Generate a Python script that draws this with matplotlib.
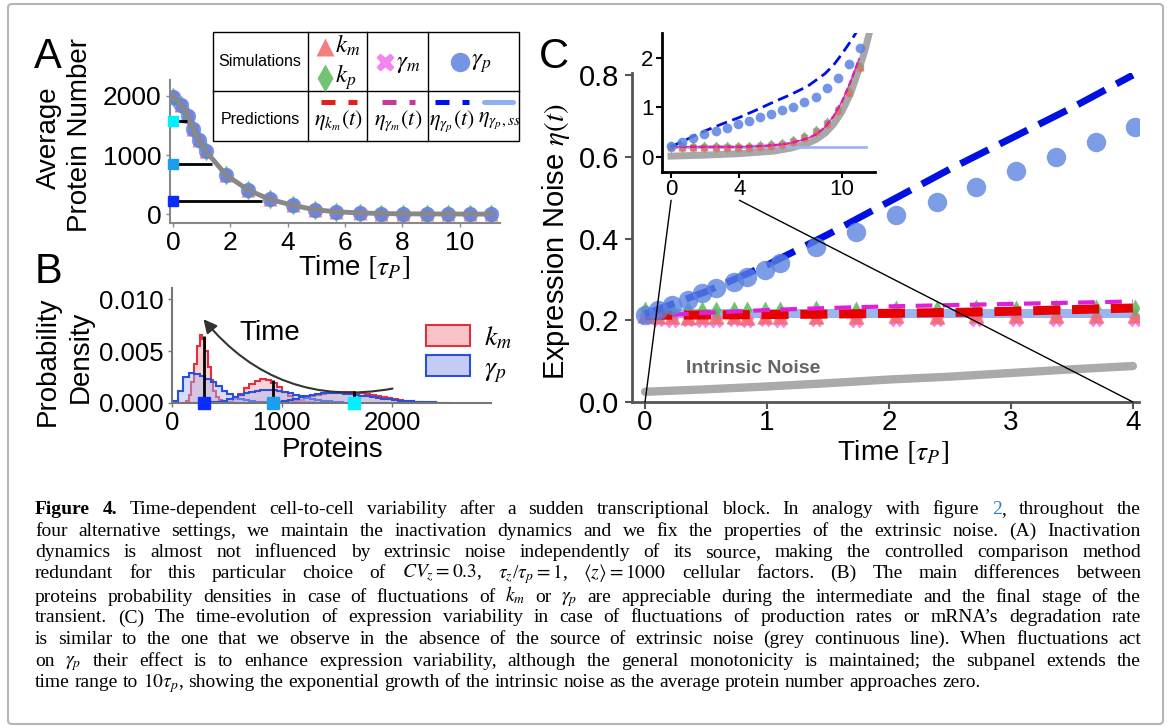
import matplotlib
matplotlib.use("Agg")
import matplotlib.pyplot as plt
from matplotlib.patches import Patch, Rectangle, FancyBboxPatch, ConnectionPatch

plt.rcParams['font.family'] = ['Liberation Sans', 'DejaVu Sans']
plt.rcParams['mathtext.fontset'] = 'stix'

W, H = 1167, 727

# ---------------- data: panel A (average protein number) ----------------
a_time = [0, 0.29, 0.52, 0.70, 0.91, 1.14, 1.86, 2.62, 3.37, 4.19, 4.94,
          5.70, 6.51, 7.27, 8.02, 8.84, 9.59, 10.35, 11.1]
a_mean = [1990, 1850, 1660, 1440, 1250, 1070, 660, 410, 250, 150, 75,
          40, 20, 10, 5, 3, 2, 1, 0]
a_snap_time = [0.5, 1.35, 3.1]
a_snap_mean = [1580, 850, 220]
snap_colors = ['#00f0ff', '#1a9fef', '#0a2cff']

# ---------------- data: panel B (histograms) ----------------
b_snap_protein = [1650, 920, 290]
b_snap_top = [0.0012, 0.0022, 0.0065]
b_snap_bottom = [0, 0, -0.0004]

red_late_start, red_late_width = 125, 25
red_late = [0.0002, 0.0008, 0.0020, 0.0038, 0.0055, 0.0066, 0.0062, 0.0050,
            0.0035, 0.0022, 0.0012, 0.0006, 0.0003, 0.0001]
red_mid_start, red_mid_width = 500, 50
red_mid = [0.0001, 0.0004, 0.0009, 0.0014, 0.0018, 0.0021, 0.0023, 0.0022,
           0.0019, 0.0015, 0.0011, 0.0007, 0.0004, 0.0002, 0.0001, 0.00005]
red_early_start, red_early_width = 1000, 50
red_early = [0.00005, 0.0001, 0.0002, 0.0003, 0.0005, 0.0007, 0.0008, 0.0009,
             0.0010, 0.0011, 0.0011, 0.0011, 0.0011, 0.0010, 0.0010, 0.0009,
             0.0008, 0.0007, 0.0006, 0.0005, 0.0004, 0.0003, 0.0002, 0.00015,
             0.0001, 0.00005]
blue_late_start, blue_late_width = 0, 50
blue_late = [0.0002, 0.0012, 0.0025, 0.0029, 0.0028, 0.0026, 0.0023, 0.0020,
             0.0016, 0.0012, 0.0009, 0.0006, 0.0004, 0.0003, 0.0002, 0.0001,
             0.0001, 0.00005]
blue_mid_start, blue_mid_width = 350, 50
blue_mid = [0.00005, 0.0001, 0.0002, 0.0004, 0.0006, 0.0008, 0.0010, 0.0011,
            0.0012, 0.0013, 0.0013, 0.0013, 0.0012, 0.0011, 0.0010, 0.0008,
            0.0007, 0.0005, 0.0004, 0.0003, 0.0002, 0.00015, 0.0001, 0.00005]
blue_early_start, blue_early_width = 900, 50
blue_early = [0.00005, 0.0001, 0.0002, 0.0003, 0.0004, 0.0006, 0.0007, 0.0008,
              0.0009, 0.0010, 0.0010, 0.0010, 0.0010, 0.0009, 0.0009, 0.0008,
              0.0007, 0.0007, 0.0006, 0.0005, 0.0004, 0.0004, 0.0003, 0.0002,
              0.0002, 0.00015, 0.0001, 0.0001, 0.00005, 0.00005, 0.00003,
              0.00002, 0.00001]

# ---------------- data: panel C (expression noise) ----------------
c_t_sim = [0, 0.11, 0.22, 0.35, 0.47, 0.58, 0.73, 0.84, 0.98, 1.11, 1.40,
           1.73, 2.06, 2.39, 2.71, 3.04, 3.37, 3.70, 4.02]
c_gp_sim = [0.213, 0.225, 0.238, 0.25, 0.267, 0.279, 0.294, 0.306, 0.324,
            0.34, 0.38, 0.416, 0.458, 0.49, 0.527, 0.564, 0.60, 0.637, 0.674]
c_km_sim = [0.212, 0.21, 0.211, 0.209, 0.21, 0.211, 0.21, 0.209, 0.21, 0.211,
            0.21, 0.211, 0.212, 0.211, 0.212, 0.213, 0.212, 0.213, 0.214]
c_kp_sim = [0.224, 0.223, 0.224, 0.225, 0.224, 0.225, 0.226, 0.225, 0.226,
            0.225, 0.227, 0.226, 0.228, 0.227, 0.229, 0.228, 0.23, 0.229, 0.231]
c_gm_sim = [0.205, 0.2, 0.199, 0.2, 0.198, 0.199, 0.2, 0.199, 0.2, 0.199, 0.2,
            0.199, 0.2, 0.2, 0.201, 0.2, 0.201, 0.2, 0.201]
c_t_model = [0, 0.5, 1, 1.5, 2, 2.5, 3, 3.5, 4]
c_eta_km = [0.212, 0.213, 0.214, 0.215, 0.217, 0.219, 0.222, 0.226, 0.23]
c_eta_gm = [0.21, 0.218, 0.225, 0.23, 0.234, 0.237, 0.24, 0.243, 0.246]
c_eta_gp = [0.215, 0.27, 0.335, 0.41, 0.49, 0.57, 0.645, 0.72, 0.80]
c_eta_ss = [0.217, 0.217, 0.217, 0.217, 0.217, 0.217, 0.217, 0.217, 0.217]
c_intrinsic = [0.025, 0.031, 0.038, 0.046, 0.055, 0.062, 0.071, 0.08, 0.088]

# inset (long time range)
i_t_sim = [0.0, 0.65, 1.3, 1.95, 2.6, 3.25, 3.9, 4.55, 5.2, 5.85, 6.5, 7.15,
           7.8, 8.45, 9.1, 9.75, 10.4, 11.05]
i_gp_sim = [0.23, 0.31, 0.39, 0.46, 0.53, 0.59, 0.66, 0.73, 0.80, 0.86, 0.94,
            1.01, 1.11, 1.22, 1.39, 1.59, 1.87, 2.2]
i_other_sim = [0.2, 0.2, 0.2, 0.2, 0.2, 0.2, 0.2, 0.21, 0.22, 0.24, 0.27,
               0.32, 0.40, 0.52, 0.68, 0.95, 1.32, 1.82]
i_t_gp = [0, 1, 2, 3, 4, 5, 6, 7, 8, 9, 9.5, 10, 10.5, 10.9]
i_eta_gp = [0.21, 0.37, 0.53, 0.67, 0.8, 0.95, 1.11, 1.26, 1.43, 1.68, 1.85,
            2.08, 2.33, 2.55]
i_t_km = [0, 2, 4, 5, 6, 7, 8, 8.5, 9, 9.5, 10, 10.5, 11]
i_eta_km = [0.21, 0.21, 0.21, 0.22, 0.24, 0.28, 0.38, 0.46, 0.6, 0.82, 1.12,
            1.52, 1.98]
i_t_intr = [0, 2, 4, 6, 7, 8, 8.5, 9, 9.5, 10, 10.5, 11, 11.3, 11.6]
i_intr = [0.02, 0.04, 0.07, 0.12, 0.18, 0.28, 0.36, 0.48, 0.66, 0.92, 1.28,
          1.78, 2.1, 2.5]
i_t_ss = [0, 11.4]
i_eta_ss = [0.21, 0.21]

col_km = '#f06a6a'
col_kp = '#5cb85c'
col_gm = '#f070f0'
col_gp = '#5b83e0'

fig = plt.figure(figsize=(11.67, 7.27), dpi=100)


def px_axes(left, top, right, bottom):
    return fig.add_axes([left / W, 1 - bottom / H, (right - left) / W, (bottom - top) / H])


def style_spines(ax, color, lw):
    for s in ['top', 'right']:
        ax.spines[s].set_visible(False)
    for s in ['left', 'bottom']:
        ax.spines[s].set_color(color)
        ax.spines[s].set_linewidth(lw)


# ---------------- panel A ----------------
axA = px_axes(170, 80, 500, 223)
axA.plot(a_time, a_mean, '^', color=col_km, ms=10, alpha=0.8, mec='none')
axA.plot(a_time, a_mean, 'd', color=col_kp, ms=10, alpha=0.8, mec='none')
axA.plot(a_time, a_mean, 'X', color=col_gm, ms=10, alpha=0.8, mec='none')
axA.plot(a_time, a_mean, 'o', color=col_gp, ms=11, alpha=0.8, mec='none')
axA.plot(a_time, a_mean, color='#888888', lw=3.5, zorder=5)
for t, m, c in zip(a_snap_time, a_snap_mean, snap_colors):
    axA.hlines(m, 0, t, color='k', lw=2, zorder=6)
    axA.plot(0, m, 's', color=c, ms=7, zorder=7, clip_on=False)
axA.set_xlim(-0.1, 11.4)
axA.set_ylim(-150, 2270)
axA.set_xticks([0, 2, 4, 6, 8, 10])
axA.set_yticks([0, 1000, 2000])
style_spines(axA, '#888888', 1.5)
axA.tick_params(labelsize=19, length=3, width=1, color='#888888', pad=3)
axA.set_xlabel(r'Time $[\tau_P]$', fontsize=20, va='center')
axA.xaxis.set_label_coords(0.558, -0.308)
axA.set_ylabel('Protein Number', fontsize=20, va='center', ha='center')
axA.yaxis.set_label_coords(-0.273, 0.615)
axA.text(-0.367, 0.594, 'Average', fontsize=20, rotation=90, ha='center',
         va='center', transform=axA.transAxes)

# ---------------- panel B ----------------
axB = px_axes(172, 288, 491, 403)
hists = [
    (red_late, red_late_start, red_late_width, '#e03040', '#f2a0a8'),
    (red_mid, red_mid_start, red_mid_width, '#e03040', '#f2a0a8'),
    (red_early, red_early_start, red_early_width, '#e03040', '#f2a0a8'),
    (blue_late, blue_late_start, blue_late_width, '#2a4fd8', '#a8b4f0'),
    (blue_mid, blue_mid_start, blue_mid_width, '#2a4fd8', '#a8b4f0'),
    (blue_early, blue_early_start, blue_early_width, '#2a4fd8', '#a8b4f0'),
]
for vals, start, width, ec, fc in hists:
    edges = [start + i * width for i in range(len(vals) + 1)]
    axB.stairs(vals, edges, fill=True, color=fc, alpha=0.45)
    axB.stairs(vals, edges, color=ec, lw=1.5)
for p, top, bot, c in zip(b_snap_protein, b_snap_top, b_snap_bottom, snap_colors):
    axB.vlines(p, bot, top, color='k', lw=2, zorder=6, clip_on=False)
    axB.plot(p, 0, 's', color=c, ms=8, zorder=7, clip_on=False)
axB.annotate('', xy=(270, 0.0083), xytext=(2030, 0.00144),
             arrowprops=dict(arrowstyle='-|>', connectionstyle='arc3,rad=-0.3',
                             color='#333333', lw=1.5, mutation_scale=20))
axB.text(890, 0.0068, 'Time', fontsize=20, ha='center', va='center')
axB.set_xlim(0, 2900)
axB.set_ylim(0, 0.0111)
axB.set_xticks([0, 1000, 2000])
axB.set_yticks([0.0, 0.005, 0.010])
axB.set_yticklabels(['0.000', '0.005', '0.010'])
style_spines(axB, '#777777', 1.5)
axB.tick_params(labelsize=18.5, length=3, width=1, color='#777777', pad=3)
axB.set_xlabel('Proteins', fontsize=20, va='center')
axB.xaxis.set_label_coords(0.503, -0.409)
axB.set_ylabel('Density', fontsize=20, va='center', ha='center')
axB.yaxis.set_label_coords(-0.2875, 0.40)
axB.text(-0.39, 0.36, 'Probability', fontsize=20, rotation=90, ha='center',
         va='center', transform=axB.transAxes)
axB.legend(handles=[Patch(facecolor='#f8c4c8', edgecolor='#e03040', lw=1.5, label=r'$k_m$'),
                    Patch(facecolor='#c4ccf6', edgecolor='#2a4fd8', lw=1.5, label=r'$\gamma_p$')],
           loc='center left', bbox_to_anchor=(0.76, 0.42), frameon=False, fontsize=20,
           handlelength=1.6, handleheight=0.8, handletextpad=0.5, labelspacing=0.15,
           borderaxespad=0)

# ---------------- panel C ----------------
axC = px_axes(632, 73, 1139, 402)
axC.plot(c_t_model, c_intrinsic, color='#aaaaaa', lw=6, solid_capstyle='round', zorder=2)
axC.plot(c_t_model, c_eta_ss, color='#9db5ee', lw=6.5, zorder=2)
axC.plot(c_t_sim, c_gm_sim, 'X', color=col_gm, ms=10, alpha=0.85, mec='none', zorder=3)
axC.plot(c_t_sim, c_km_sim, '^', color=col_km, ms=11, alpha=0.85, mec='none', zorder=3)
axC.plot(c_t_sim, c_kp_sim, 'd', color=col_kp, ms=9, alpha=0.85, mec='none', zorder=3)
axC.plot(c_t_model, c_eta_km, color='#e60000', lw=6.5, ls=(0, (3, 1.3)), zorder=4)
axC.plot(c_t_model, c_eta_gm, color='#e020d8', lw=3, ls=(0, (4, 2.5)), zorder=4)
axC.plot(c_t_model, c_eta_gp, color='#0010e0', lw=5, ls=(0, (4.5, 1.8)), zorder=5)
axC.plot(c_t_sim, c_gp_sim, 'o', color=col_gp, ms=14, alpha=0.8, mec='none', zorder=6)
axC.text(0.89, 0.083, 'Intrinsic Noise', fontsize=14, fontweight='bold',
         color='#666666', ha='center', va='center')
axC.set_xlim(-0.107, 4.05)
axC.set_ylim(0, 0.805)
axC.set_xticks([0, 1, 2, 3, 4])
axC.set_yticks([0.0, 0.2, 0.4, 0.6, 0.8])
style_spines(axC, '#555555', 2)
axC.tick_params(labelsize=21, length=5, width=1.5, color='#555555', pad=4)
axC.tick_params(axis='x', labelsize=20, pad=1)
axC.set_xlabel(r'Time $[\tau_P]$', fontsize=20, va='center')
axC.xaxis.set_label_coords(0.515, -0.152)
axC.set_ylabel(r'Expression Noise $\eta(t)$', fontsize=21, va='center', ha='center')
axC.yaxis.set_label_coords(-0.15, 0.486)

# inset
axI = px_axes(662, 33, 875, 172)
axI.set_zorder(5)
axI.plot(i_t_intr, i_intr, color='#999999', lw=5, alpha=0.85, zorder=2)
axI.plot(i_t_ss, i_eta_ss, color='#9db5ee', lw=2, zorder=2)
axI.plot(i_t_sim, i_other_sim, 'X', color=col_gm, ms=6, alpha=0.85, mec='none', zorder=3)
axI.plot(i_t_sim, i_other_sim, 'd', color=col_kp, ms=6, alpha=0.85, mec='none', zorder=3)
axI.plot(i_t_sim, i_other_sim, '^', color=col_km, ms=6, alpha=0.85, mec='none', zorder=3)
axI.plot(i_t_km, i_eta_km, color='#e60000', lw=1.5, ls=(0, (3, 1.5)), zorder=4)
axI.plot(i_t_km, i_eta_km, color='#e020d8', lw=1, zorder=4)
axI.plot(i_t_gp, i_eta_gp, color='#0010e0', lw=2, ls=(0, (4, 2)), zorder=4)
axI.plot(i_t_sim, i_gp_sim, 'o', color=col_gp, ms=7, alpha=0.85, mec='none', zorder=5)
axI.set_xlim(-0.53, 11.93)
axI.set_ylim(-0.30, 2.5)
axI.set_xticks([0, 4, 10])
axI.set_yticks([0, 1, 2])
style_spines(axI, 'black', 2)
axI.tick_params(labelsize=16, length=4, width=1.5, pad=2)
axI.tick_params(axis='x', pad=1)

for tx in [0, 4]:
    con = ConnectionPatch(xyA=(tx, -0.87), coordsA=axI.transData, xyB=(tx, 0),
                          coordsB=axC.transData, color='k', lw=1)
    con.set_zorder(6)
    fig.add_artist(con)

# ---------------- overlay in pixel coordinates ----------------
ov = fig.add_axes([0, 0, 1, 1])
ov.set_xlim(0, W)
ov.set_ylim(H, 0)
ov.axis('off')
ov.set_zorder(20)

ov.add_patch(FancyBboxPatch((8, 4), 1155, 720, boxstyle='round,pad=0,rounding_size=4',
                            fc='none', ec='#b5b5b5', lw=1.5))

for letter, x, y in [('A', 48, 57), ('B', 48, 272), ('C', 554, 57)]:
    ov.text(x, y, letter, fontsize=30, ha='center', va='center')

# legend table of panel A
ov.add_patch(Rectangle((213, 32), 306, 109, fc='white', ec='black', lw=1))
ov.plot([213, 519], [91, 91], color='black', lw=1)
for xv in [308, 367, 428]:
    ov.plot([xv, xv], [32, 141], color='black', lw=1)
ov.text(260, 62, 'Simulations', fontsize=11.5, ha='center', va='center')
ov.text(260, 119, 'Predictions', fontsize=11.5, ha='center', va='center')
ov.plot(325, 47, '^', color=col_km, ms=13, alpha=0.85, mec='none')
ov.plot(325, 78, 'd', color=col_kp, ms=14, alpha=0.85, mec='none')
ov.plot(385, 62, 'X', color=col_gm, ms=13, alpha=0.85, mec='none')
ov.plot(460, 62, 'o', color=col_gp, ms=14, alpha=0.85, mec='none')
ov.text(335, 45, r'$k_m$', fontsize=18, ha='left', va='center')
ov.text(335, 77, r'$k_p$', fontsize=18, ha='left', va='center')
ov.text(396, 63, r'$\gamma_m$', fontsize=18, ha='left', va='center')
ov.text(471, 63, r'$\gamma_p$', fontsize=18, ha='left', va='center')
ov.plot([321, 357], [102, 102], color='#e0201e', lw=3.6, ls=(0, (2.8, 2.6)))
ov.plot([382, 415], [102, 102], color='#c8389a', lw=3.6, ls=(0, (2.8, 2.6)))
ov.plot([435, 469], [102, 102], color='#0010f0', lw=3.6, ls=(0, (2.8, 2.6)))
ov.plot([484, 513], [102, 102], color='#8fb0f0', lw=3.6, solid_capstyle='round')
ov.text(338, 121, r'$\eta_{k_m}(t)$', fontsize=16, ha='center', va='center')
ov.text(398, 121, r'$\eta_{\gamma_m}(t)$', fontsize=16, ha='center', va='center')
ov.text(452, 121, r'$\eta_{\gamma_p}(t)$', fontsize=16, ha='center', va='center')
ov.text(500, 121, r'$\eta_{\gamma_p,ss}$', fontsize=16, ha='center', va='center')

# caption, justified word by word
cap_lines = [
    "Figure 4. Time-dependent cell-to-cell variability after a sudden transcriptional block. In analogy with figure 2, throughout the",
    "four alternative settings, we maintain the inactivation dynamics and we fix the properties of the extrinsic noise. (A) Inactivation",
    "dynamics is almost not influenced by extrinsic noise independently of its source, making the controlled comparison method",
    r"redundant for this particular choice of $CV_z = 0.3$, $\tau_z$/$\tau_p = 1$, $\langle z\rangle = 1000$ cellular factors. (B) The main differences between",
    r"proteins probability densities in case of fluctuations of $k_m$ or $\gamma_p$ are appreciable during the intermediate and the final stage of the",
    "transient. (C) The time-evolution of expression variability in case of fluctuations of production rates or mRNA\u2019s degradation rate",
    "is similar to the one that we observe in the absence of the source of extrinsic noise (grey continuous line). When fluctuations act",
    r"on $\gamma_p$ their effect is to enhance expression variability, although the general monotonicity is maintained; the subpanel extends the",
    r"time range to $10\tau_p$, showing the exponential growth of the intrinsic noise as the average protein number approaches zero.",
]
cap_base = [514, 535.5, 557, 578, 601.5, 622.5, 644, 665.5, 687]
cap_left, cap_right = 35, 1141
cap_size = 14
cap_font = ['Liberation Serif', 'DejaVu Serif']


def split_words(s):
    words, cur, in_math = [], '', False
    for ch in s:
        if ch == '$':
            in_math = not in_math
        if ch == ' ' and not in_math:
            words.append(cur)
            cur = ''
        else:
            cur += ch
    words.append(cur)
    return words


renderer = fig.canvas.get_renderer()
for i, (line, yb) in enumerate(zip(cap_lines, cap_base)):
    words = [[(w, {})] for w in split_words(line)]
    if i == 0:
        words[0] = [('Figure', {'fontweight': 'bold'})]
        words[1] = [('4.', {'fontweight': 'bold'})]
        k = split_words(line).index('2,')
        words[k] = [('2', {'color': '#2f7fc1'}), (',', {})]
    arts, widths = [], []
    for segs in words:
        ts, wsum = [], 0
        for txt, st in segs:
            t = ov.text(0, yb, txt, fontsize=cap_size, family=cap_font,
                        ha='left', va='baseline', **st)
            w = t.get_window_extent(renderer).width
            ts.append((t, w))
            wsum += w
        arts.append(ts)
        widths.append(wsum)
    if i == len(cap_lines) - 1:
        gap = 0.25 * cap_size * 100 / 72
    else:
        gap = max(2.0, (cap_right - cap_left - sum(widths)) / (len(words) - 1))
    x = cap_left
    for ts in arts:
        for t, w in ts:
            t.set_x(x)
            x += w
        x += gap

fig.savefig('out.png', dpi=100)
